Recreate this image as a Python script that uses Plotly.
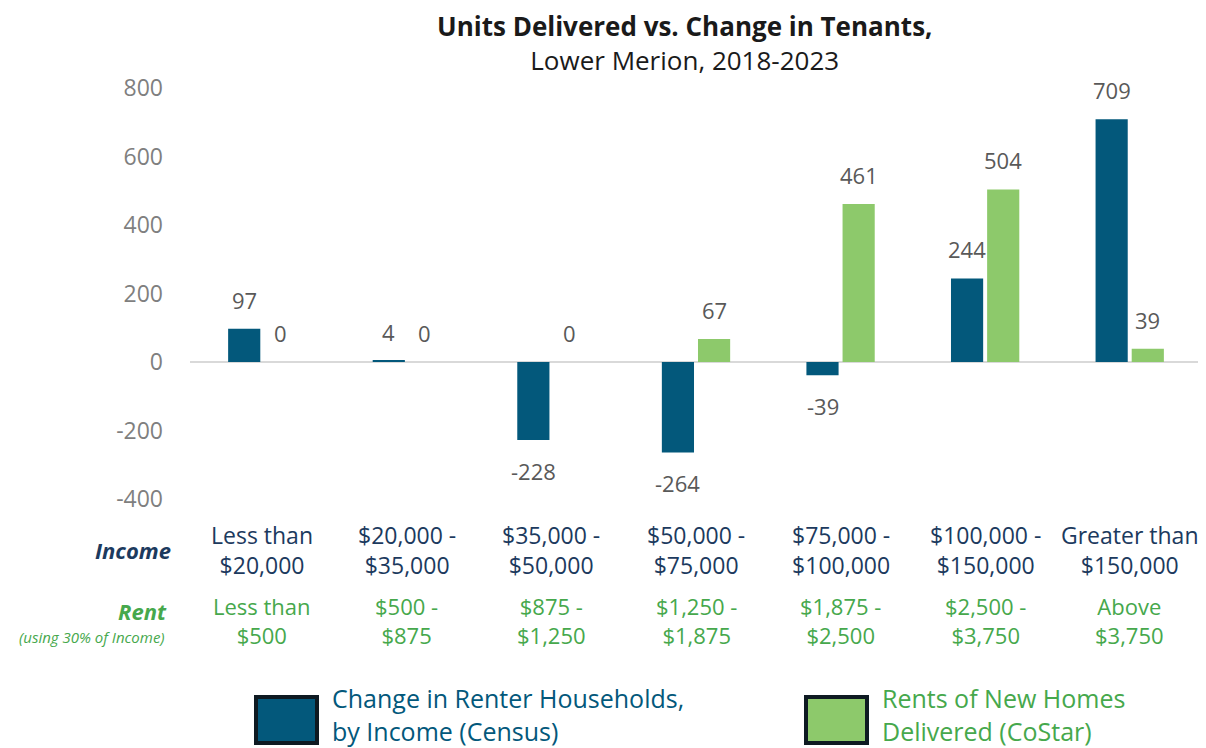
import plotly.graph_objects as go

# data
cats = ["c1", "c2", "c3", "c4", "c5", "c6", "c7"]
renters = [97, 4, -228, -264, -39, 244, 709]
delivered = [0, 0, 0, 67, 461, 504, 39]
income_lbl = ["Less than<br>$20,000", "$20,000 -<br>$35,000", "$35,000 -<br>$50,000",
              "$50,000 -<br>$75,000", "$75,000 -<br>$100,000", "$100,000 -<br>$150,000",
              "Greater than<br>$150,000"]
rent_lbl = ["Less than<br>$500", "$500 -<br>$875", "$875 -<br>$1,250",
            "$1,250 -<br>$1,875", "$1,875 -<br>$2,500", "$2,500 -<br>$3,750",
            "Above<br>$3,750"]
yticks = [-400, -200, 0, 200, 400, 600, 800]
series_names = ["Change in Renter Households,<br>by Income (Census)",
                "Rents of New Homes<br>Delivered (CoStar)"]

BLUE = "#03587B"
GREEN = "#8DC96B"
NAVY = "#1C3A5E"
TXTGREEN = "#46A84C"
LBL = "#595959"
FONT = "Open Sans"

OFF = 8                       # page body margin
W, H = 1206 - OFF, 748 - OFF
L, R, T, B = 190, 1202, 88, 499   # plot area, screen pixels


def px(x):
    return (x - L) / (R - L)


def py(y):
    return (B - y) / (B - T)


fig = go.Figure()
fig.add_trace(go.Bar(x=cats, y=renters, marker=dict(color=BLUE, line=dict(width=0))))
fig.add_trace(go.Bar(x=cats, y=delivered, marker=dict(color=GREEN, line=dict(width=0))))

ann = []
ann.append(dict(text="<b>Units Delivered vs. Change in Tenants,</b><br>Lower Merion, 2018-2023",
                x=px(684), y=py(43), xref="paper", yref="paper", yanchor="middle", showarrow=False,
                font=dict(size=26, color="#1a1a1a")))

# value labels
for vals, dx in [(renters, -0.125), (delivered, 0.125)]:
    for i, v in enumerate(vals):
        ann.append(dict(text=str(v), x=i + dx, y=v, xref="x", yref="y", showarrow=False,
                        yanchor="bottom" if v >= 0 else "top", yshift=12 if v >= 0 else -14,
                        font=dict(size=22, color=LBL)))

for i, c in enumerate(cats):
    ann.append(dict(text=income_lbl[i], x=c, y=py(550), xref="x", yref="paper",
                    yanchor="middle", showarrow=False, font=dict(size=23, color=NAVY)))
    ann.append(dict(text=rent_lbl[i], x=c, y=py(620), xref="x", yref="paper",
                    yanchor="middle", showarrow=False, font=dict(size=22, color=TXTGREEN)))

ann.append(dict(text="<b><i>Income</i></b>", x=px(173), y=py(550), xref="paper", yref="paper",
                xanchor="right", yanchor="middle", showarrow=False, font=dict(size=22, color=NAVY)))
ann.append(dict(text="<b><i>Rent</i></b>", x=px(169), y=py(611), xref="paper", yref="paper",
                xanchor="right", yanchor="middle", showarrow=False, font=dict(size=22, color=TXTGREEN)))
ann.append(dict(text="<i>(using 30% of Income)</i>", x=px(167), y=py(637), xref="paper", yref="paper",
                xanchor="right", yanchor="middle", showarrow=False, font=dict(size=15, color=TXTGREEN)))

# legend built by hand
shapes = []
for x0, col, name, tcol in [(256, BLUE, series_names[0], BLUE), (806, GREEN, series_names[1], TXTGREEN)]:
    shapes.append(dict(type="rect", xref="paper", yref="paper", x0=px(x0), x1=px(x0 + 61),
                       y0=py(743), y1=py(697), fillcolor=col, line=dict(color="#0E1A22", width=4)))
    ann.append(dict(text=name, x=px(x0 + 74), y=py(714), xref="paper", yref="paper",
                    xanchor="left", yanchor="middle", align="left", showarrow=False,
                    font=dict(size=25, color=tcol, family=FONT)))

fig.update_layout(
    width=W, height=H,
    margin=dict(l=L - OFF, r=W - (R - OFF), t=T - OFF, b=H - (B - OFF)),
    plot_bgcolor="white", paper_bgcolor="white",
    font=dict(family=FONT),
    barmode="group", bargap=0.5, bargroupgap=0.11,
    showlegend=False,
    annotations=ann, shapes=shapes,
    xaxis=dict(showticklabels=False, showgrid=False, zeroline=False, showline=False),
    yaxis=dict(range=[-400, 800], tickvals=yticks, ticktext=[str(v) for v in yticks],
               showgrid=False, zeroline=True, zerolinecolor="#D9D9D9", zerolinewidth=2,
               tickfont=dict(size=23, color="#7F7F7F"), ticklabelstandoff=26),
)

fig.write_html("out.html")
